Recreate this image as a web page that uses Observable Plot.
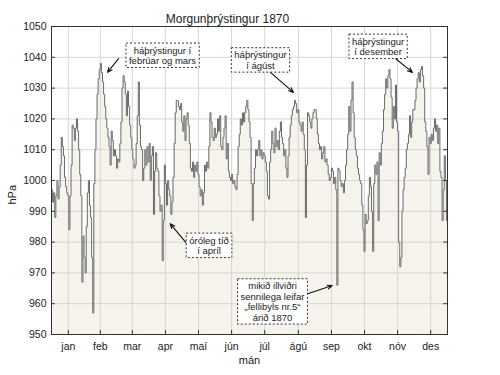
<!DOCTYPE html>
<html><head><meta charset="utf-8">
<script src="https://cdn.jsdelivr.net/npm/d3@7"></script>
<script src="https://cdn.jsdelivr.net/npm/@observablehq/plot@0.6"></script>
<style>
body{margin:0;background:#fff;}
svg{font-family:"Liberation Sans",Arial,sans-serif;}
</style>
</head><body><div id="chart"></div>
<script>
const titleText = "Morgunþrýstingur 1870";
const xLabel = "mán";
const yLabel = "hPa";
const monthLabels = ["jan","feb","mar","apr","maí","jún","júl","ágú","sep","okt","nóv","des"];
const yTicks = [950, 960, 970, 980, 990, 1000, 1010, 1020, 1030, 1040, 1050];

// daily morning pressure (hPa)
const jan = [997,993,996,988,995,1000,994,998,1005,1014,1011,1008,1001,998,996,995,984,995,1005,1018,1017,1013,1017,1020,1016,1010,1002,995,967,982,975];
const feb = [970,985,996,1000,992,988,975,957,999,1010,1020,1028,1033,1036,1038,1035,1032,1028,1024,1020,1017,1014,1011,1005,1016,1013,1008,1010];
const mar = [1008,1004,1007,1006,1012,1019,1030,1034,1032,1028,1021,1029,1024,1018,1014,1010,1007,1004,1005,1012,1021,1032,1018,1011,1010,1000,1004,1010,1005,1011,1006];
const apr = [1012,1000,1008,1011,989,1003,1009,1004,1003,995,990,992,974,987,1005,999,992,1000,997,995,989,993,1001,1012,1022,1026,1026,1024,1023,1025];
const mai = [1019,1016,1021,1013,1020,1022,1018,1012,1004,1003,1006,1001,1005,1003,1006,1002,998,995,997,992,996,1005,1003,1006,1004,1011,1022,1019,1014,1013,1017];
const jun = [1014,1015,1020,1016,1021,1011,1010,1014,1017,1021,1007,1012,1003,1001,1000,1002,999,1000,998,997,1002,1011,1015,1020,1018,1022,1019,1022,1024,1026];
const jul = [1023,1019,1014,999,987,999,1004,1010,1008,1010,1013,1008,1010,1007,1009,1008,1006,1003,995,994,1006,1010,1016,1012,1009,1017,1011,1013,1010,1016,1019];
const agu = [1014,1012,1008,1010,1004,1001,1008,1014,1018,1021,1023,1024,1026,1025,1022,1023,1019,1018,1016,1019,1015,1010,988,1005,1022,1021,1019,1017,1020,1022,1023];
const sep = [1023,1020,1015,1012,1010,1011,1007,1009,1011,1006,1007,1005,1002,1000,1001,1004,1003,999,1001,997,966,1004,1003,1000,998,999,996,1000,1005,1010];
const okt = [1015,1024,1016,1026,1032,1022,1014,1010,1008,1004,1002,1000,999,992,984,977,989,986,987,995,1001,998,990,977,999,1005,1002,1006,987,1009,1005];
const nov = [1012,1016,1023,1028,1033,1030,1034,1036,1033,1027,1017,1024,1020,1031,1019,1016,980,972,975,990,997,1001,1004,1010,1012,1015,1021,1014,1019,1023];
const des = [1023,1026,1030,1033,1035,1032,1036,1037,1034,1030,1019,1016,1011,1002,1014,1012,1015,1013,1017,1020,1016,1018,1012,1017,1003,1001,987,997,1008,1000,987];

// annotations: label centre (day, hPa), arrow tail and head (day, hPa)
const annotLabels = ["háþrýstingur í\nfebrúar og mars", "háþrýstingur\ní ágúst", "háþrýstingur\ní desember", "óróleg tíð\ní apríl", "mikið illviðri\nsennilega leifar\n„fellibyls nr.5“\nárið 1870"];
const annotCx = [102.3, 192.6, 301, 145.2, 203.7];
const annotCy = [1040.6, 1039.1, 1043.5, 978.9, 960.7];
const arrowX1 = [61.8, 201.8, 317, 124.7, 236.9];
const arrowY1 = [1039.6, 1035.1, 1039.6, 979.5, 963.3];
const arrowX2 = [51.6, 223, 332.7, 109.4, 258.7];
const arrowY2 = [1035.1, 1028.6, 1035.1, 986, 965.9];

const months = [jan, feb, mar, apr, mai, jun, jul, agu, sep, okt, nov, des];
const pressure = months.flat().map((v, i) => ({day: i, hPa: v}));
const nDays = pressure.length;
const series = pressure.concat([{day: nDays, hPa: pressure[nDays - 1].hPa}]);
let acc = 0;
const monthTicks = months.map((m, i) => { const t = {pos: acc + m.length / 2, label: monthLabels[i]}; acc += m.length; return t; });
const tickLabel = new Map(monthTicks.map(d => [d.pos, d.label]));
const annotations = annotLabels.map((l, i) => ({label: l, cx: annotCx[i], cy: annotCy[i], x1: arrowX1[i], y1: arrowY1[i], x2: arrowX2[i], y2: arrowY2[i]}));

const plot = Plot.plot({
  width: 500, height: 375,
  marginTop: 26, marginLeft: 51, marginRight: 53, marginBottom: 41,
  style: {fontFamily: "Liberation Sans, Arial, sans-serif", fontSize: "10.5px", color: "#222", background: "white"},
  x: {domain: [0, nDays], ticks: monthTicks.map(d => d.pos), tickFormat: d => tickLabel.get(d), tickSize: 0, tickPadding: 8, label: null},
  y: {domain: [950, 1050], ticks: yTicks, tickFormat: d => String(d), tickSize: 0, tickPadding: 5, label: null},
  marks: [
    Plot.areaY(series, {x: "day", y1: 950, y2: "hPa", curve: "step-after", fill: "#f5f3ec"}),
    Plot.ruleY(yTicks, {stroke: "#d6d6d6", strokeWidth: 1}),
    Plot.ruleX(monthTicks, {x: "pos", stroke: "#d6d6d6", strokeWidth: 1}),
    Plot.lineY(series, {x: "day", y: "hPa", curve: "step-after", stroke: "#6a6a6a", strokeWidth: 1}),
    Plot.frame({stroke: "#333"}),
    Plot.ruleY(yTicks, {x1: 0, x2: 3.5, stroke: "#333"}),
    Plot.ruleY(yTicks, {x1: nDays - 3.5, x2: nDays, stroke: "#333"}),
    Plot.ruleX(monthTicks, {x: "pos", y1: 950, y2: 951.3, stroke: "#333"}),
    Plot.arrow(annotations, {x1: "x1", y1: "y1", x2: "x2", y2: "y2", stroke: "#111", strokeWidth: 1.1, headLength: 7, headAngle: 45}),
    Plot.text(annotations, {x: "cx", y: "cy", text: "label", fontSize: 9.5, lineHeight: 1.1, fill: "#222"}),
    Plot.text([titleText], {frameAnchor: "top", dx: -22, dy: -12, fontSize: 12, fill: "#222"}),
    Plot.text([xLabel], {frameAnchor: "bottom", dy: 29, fontSize: 11, fill: "#222"}),
    Plot.text([yLabel], {frameAnchor: "left", dx: -39, dy: 24, rotate: -90, fontSize: 11, fill: "#222"})
  ]
});
document.getElementById("chart").appendChild(plot);

const labelSet = new Set(annotLabels.map(l => l.replace(/\n/g, "")));
d3.select(plot).selectAll("text").filter(function() { return labelSet.has(this.textContent); }).each(function() {
  const b = this.getBBox();
  const r = d3.select(this.parentNode).insert("rect", () => this)
    .attr("x", b.x - 3).attr("y", b.y - 1.5)
    .attr("width", b.width + 6).attr("height", b.height + 3)
    .attr("fill", "white").attr("stroke", "#333")
    .attr("stroke-width", 1).attr("stroke-dasharray", "2,2");
  const tr = this.getAttribute("transform");
  if (tr) r.attr("transform", tr);
  else r.attr("transform", null);
});
</script>
</body></html>
